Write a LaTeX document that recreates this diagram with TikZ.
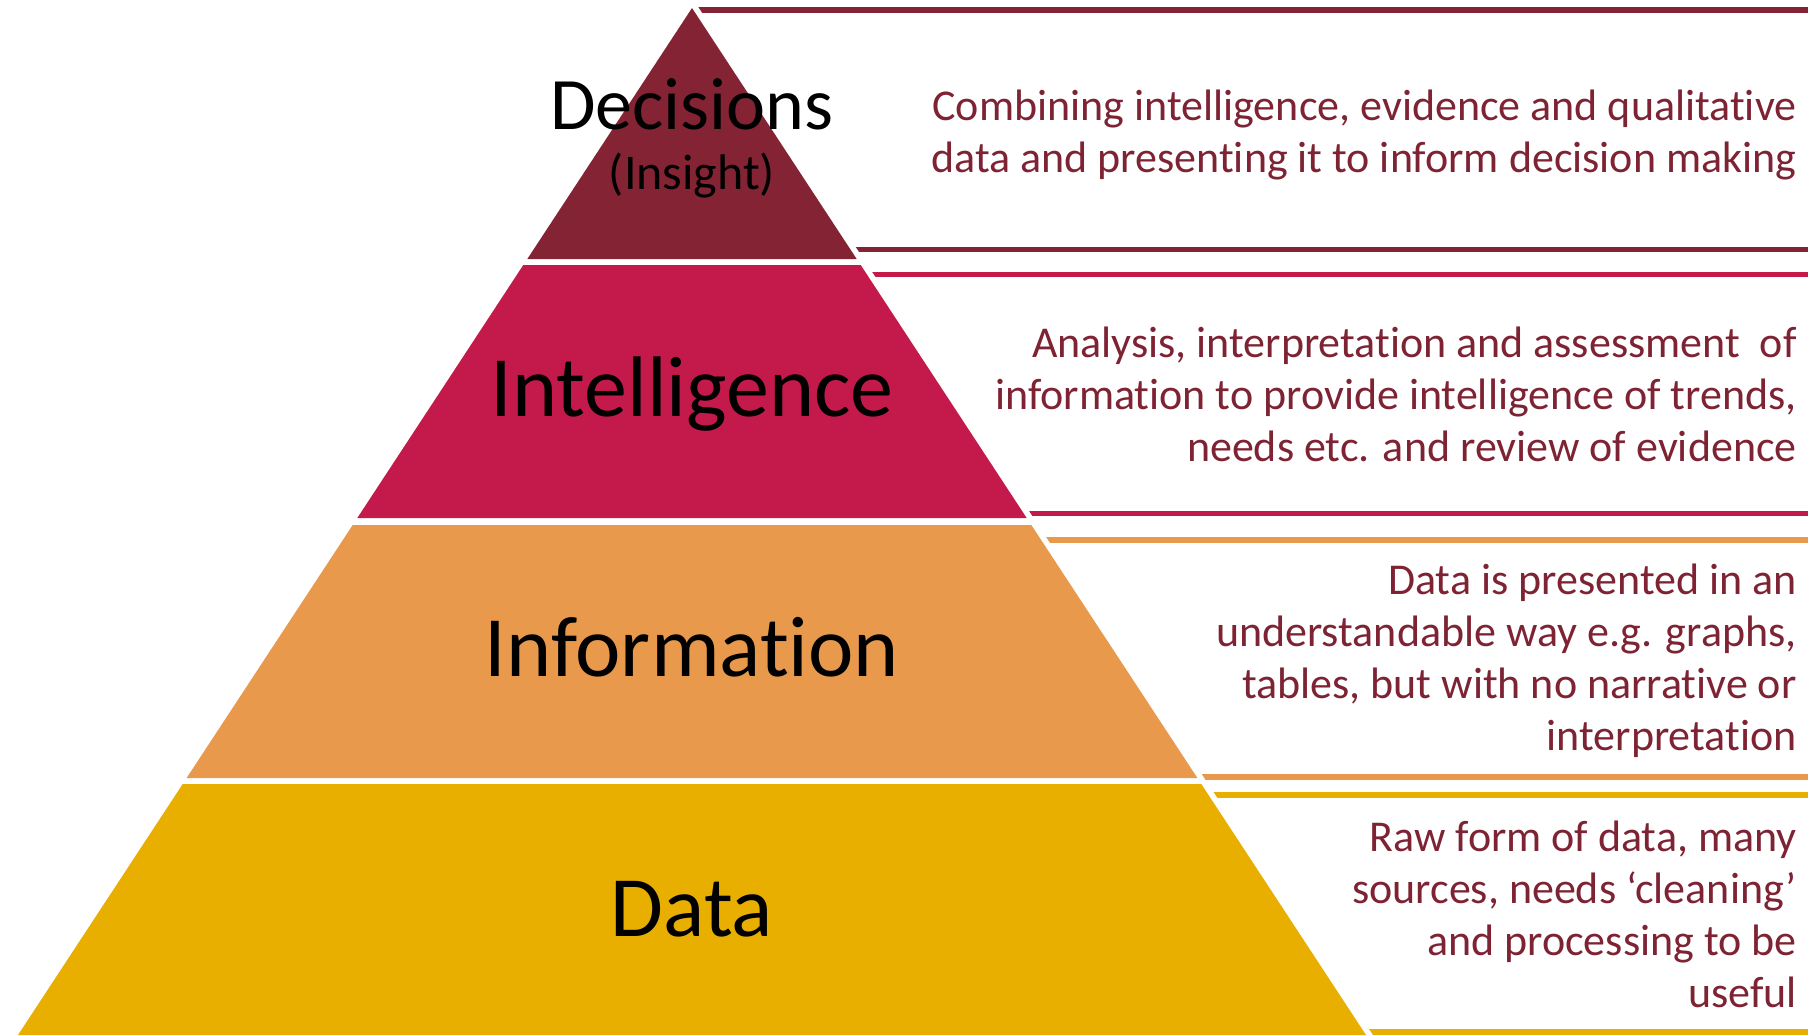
\documentclass[tikz,border=0pt]{standalone}
\usepackage{fontspec}
\setmainfont{Carlito}[Ligatures={NoCommon,NoContextual},RawFeature={-liga;-clig;-dlig}]
\definecolor{cdec}{HTML}{832333}
\definecolor{cint}{HTML}{C41A4B}
\definecolor{cinf}{HTML}{E8994C}
\definecolor{cdat}{HTML}{E8AE00}
\definecolor{ctxt}{HTML}{7E2333}
\tikzset{
  rule/.style={line width=2.75pt},
  biglabel/.style={anchor=base, inner sep=0pt, text=black, font=\fontsize{43}{52}\selectfont},
  desc/.style={anchor=east, inner sep=0pt, align=right, text=ctxt, font=\fontsize{22}{26}\selectfont}
}
\begin{document}
\begin{tikzpicture}[x=0.5pt,y=-0.5pt]
\useasboundingbox (0,0) rectangle (1808,1035);
% horizontal rules to the right of the pyramid
\begin{scope}
  \clip (693.7,0) -- (1808,0) -- (1808,1035) -- (1373,1035) -- cycle;
  \draw[rule,cdec] (690,10) -- (1808,10);
  \draw[rule,cdec] (690,249.5) -- (1808,249.5);
  \draw[rule,cint] (690,274.5) -- (1808,274.5);
  \draw[rule,cint] (690,513.5) -- (1808,513.5);
  \draw[rule,cinf] (690,540) -- (1808,540);
  \draw[rule,cinf] (690,777) -- (1808,777);
  \draw[rule,cdat] (690,795) -- (1808,795);
  \draw[rule,cdat] (690,1032) -- (1808,1032);
\end{scope}
% pyramid bands
\fill[cdec] (692,8) -- (856.7,259) -- (527.3,259) -- cycle;
\fill[cint] (523.3,265) -- (860.7,265) -- (1026.7,518) -- (357.3,518) -- cycle;
\fill[cinf] (352.7,525) -- (1031.3,525) -- (1197.4,778) -- (186.6,778) -- cycle;
\fill[cdat] (182.7,784) -- (1201.3,784) -- (1366,1035) -- (18,1035) -- cycle;
% labels
\node[biglabel, font=\fontsize{37}{44}\selectfont] (ldec) at (692,129) {Decisions};
\node[biglabel, font=\fontsize{25}{30}\selectfont] (lins) at (692,189) {(Insight)};
\node[biglabel] (lint) at (692,416) {Intelligence};
\node[biglabel] (linf) at (692,676) {Information};
\node[biglabel] (ldat) at (692,936) {Data};
% descriptions
\node[desc] (tdec) at (1797,135) {Combining intelligence, evidence and qualitative\\data and presenting it to inform decision making};
\node[desc] (tint) at (1797,394) {Analysis, interpretation and assessment\ \ of\\information to provide intelligence of trends,\\needs etc. and review of evidence};
\node[desc] (tinf) at (1797,661) {Data is presented in an\\understandable way e.g. graphs,\\tables, but with no narrative or\\interpretation};
\node[desc] (tdat) at (1797,914) {Raw form of data, many\\sources, needs ‘cleaning’\\and processing to be\\useful};
\end{tikzpicture}
\end{document}
